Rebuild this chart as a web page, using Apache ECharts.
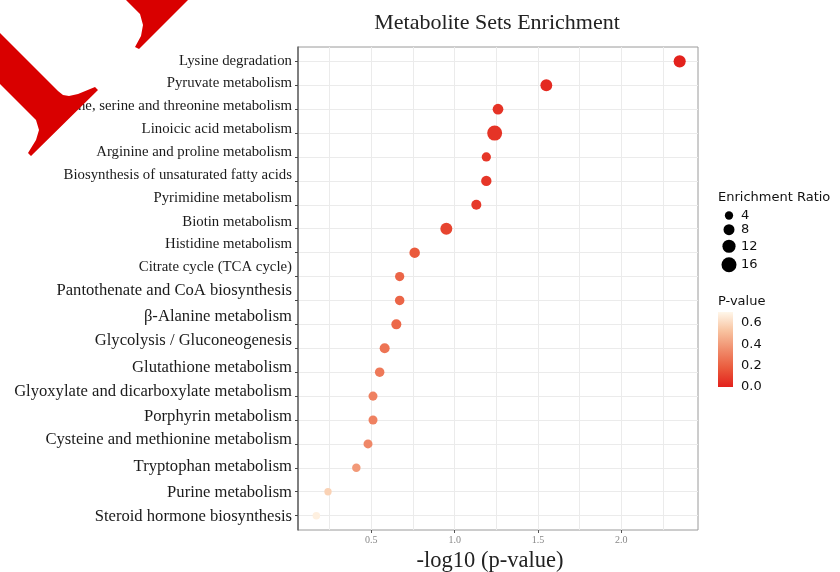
<!DOCTYPE html>
<html>
<head>
<meta charset="utf-8">
<script src="https://cdn.jsdelivr.net/npm/echarts@6/dist/echarts.min.js"></script>
<style>
  html, body { margin: 0; padding: 0; background: #fff; }
  #chart { width: 840px; height: 572px; }
</style>
</head>
<body>
<div id="chart"></div>
<script>
// pathways, top to bottom
const pathways = [
  'Lysine degradation',
  'Pyruvate metabolism',
  'Glycine, serine and threonine metabolism',
  'Linoicic acid metabolism',
  'Arginine and proline metabolism',
  'Biosynthesis of unsaturated fatty acids',
  'Pyrimidine metabolism',
  'Biotin metabolism',
  'Histidine metabolism',
  'Citrate cycle (TCA cycle)',
  'Pantothenate and CoA biosynthesis',
  'β-Alanine metabolism',
  'Glycolysis / Gluconeogenesis',
  'Glutathione metabolism',
  'Glyoxylate and dicarboxylate metabolism',
  'Porphyrin metabolism',
  'Cysteine and methionine metabolism',
  'Tryptophan metabolism',
  'Purine metabolism',
  'Steroid hormone biosynthesis'
]
const negLogP = [2.35, 1.55, 1.26, 1.24, 1.19, 1.19, 1.13, 0.95, 0.76, 0.67,
  0.67, 0.65, 0.58, 0.55, 0.51, 0.51, 0.48, 0.41, 0.24, 0.17]
const pValue = [0.0045, 0.028, 0.055, 0.057, 0.065, 0.065, 0.074, 0.112, 0.174, 0.214,
  0.214, 0.224, 0.263, 0.282, 0.309, 0.309, 0.331, 0.389, 0.575, 0.676]
const enrichRatio = [10, 9.5, 7.5, 16, 5.3, 7, 6.4, 9.7, 7.2, 5.3,
  5.6, 6.4, 6.4, 5.6, 5, 4.9, 4.9, 4.2, 2.8, 3]

const xTicks = [0.5, 1.0, 1.5, 2.0]
const xGridLines = [0.25, 0.5, 0.75, 1.0, 1.25, 1.5, 1.75, 2.0, 2.25]
const sizeLegend = [4, 8, 12, 16]
const pLegendTicks = [0.0, 0.2, 0.4, 0.6]

// style bits
const pColors = ['#e3211c', '#ea5a3c', '#f08d6c', '#f8c3a0', '#fff7ea']
const pMax = 0.7
// labels in the picture drift a bit above their grid lines
const labelLift = [0, 2, 3, 4, 5, 6, 7, 7, 9, 9, 10, 8, 8, 5, 4, 3, 4, 1, -1, -1]
const serif = '"Liberation Serif", "Times New Roman", serif'
const sans = '"DejaVu Sans", sans-serif'

let dotSize = v => Math.sqrt(17 + 13 * v)

let rich = {}
pathways.forEach((p, i) => {
  let l = labelLift[i]
  rich['s' + i] = {
    fontFamily: serif,
    fontSize: i < 10 ? 14.8 : 16.6,
    color: '#1a1a1a',
    padding: l >= 0 ? [0, 0, l * 2, 0] : [-l * 2, 0, 0, 0]
  }
})

let seriesData = pathways.map((p, i) => [negLogP[i], i, enrichRatio[i], pValue[i]])

// legend graphics
let graphics = []
graphics.push({
  type: 'text', x: 718, y: 198,
  style: { text: 'Enrichment Ratio', font: '13px ' + sans, fill: '#111', verticalAlign: 'middle' }
})
let ly = 215.5
sizeLegend.forEach((v, i) => {
  if (i > 0) ly += (dotSize(sizeLegend[i - 1]) + dotSize(v)) / 2 + 4.5
  graphics.push({ type: 'circle', shape: { cx: 729, cy: ly, r: dotSize(v) / 2 }, style: { fill: '#000' } })
  graphics.push({
    type: 'text', x: 741, y: ly,
    style: { text: String(v), font: '13px ' + sans, fill: '#111', verticalAlign: 'middle' }
  })
})
graphics.push({
  type: 'text', x: 718, y: 302,
  style: { text: 'P-value', font: '13px ' + sans, fill: '#111', verticalAlign: 'middle' }
})
let barTop = 312, barH = 75
graphics.push({
  type: 'rect', shape: { x: 718, y: barTop, width: 15, height: barH },
  style: {
    fill: new echarts.graphic.LinearGradient(0, 0, 0, 1,
      pColors.slice().reverse().map((c, i) => ({ offset: i / (pColors.length - 1), color: c })))
  }
})
pLegendTicks.forEach(t => {
  graphics.push({
    type: 'text', x: 741, y: barTop + barH * (1 - t / pMax),
    style: { text: t.toFixed(1), font: '13px ' + sans, fill: '#111', verticalAlign: 'middle' }
  })
})
// red mark over the top-left corner
graphics.push({
  type: 'polygon', z: 100,
  shape: { points: [[0, 33], [58, 91], [63, 95], [69, 96], [78, 94], [95, 87], [98, 90], [31, 156],
    [28, 153], [36, 140], [39, 130], [36, 120], [0, 84]] },
  style: { fill: '#d90000' }
})
graphics.push({
  type: 'polygon', z: 100,
  shape: { points: [[126, 0], [188, 0], [139, 49], [135, 47], [141, 36], [143, 25], [140, 14]] },
  style: { fill: '#d90000' }
})

let option = {
  animation: false,
  title: {
    text: 'Metabolite Sets Enrichment',
    left: 492, top: 7, textAlign: 'center',
    textStyle: { fontFamily: serif, fontSize: 22, fontWeight: 'normal', color: '#222' }
  },
  grid: {
    left: 298, right: 142, top: 47, bottom: 42,
    outerBoundsMode: 'none',
    show: true, borderColor: '#9a9a9a', borderWidth: 1, backgroundColor: '#fff'
  },
  xAxis: [
    {
      type: 'value', min: 0.06, max: 2.46,
      name: '-log10 (p-value)', nameLocation: 'middle', nameGap: 20,
      nameTextStyle: { fontFamily: serif, fontSize: 22.5, color: '#222', padding: [0, 16, 0, 0] },
      axisLine: { show: false, onZero: false },
      axisTick: { show: true, length: 3, customValues: xTicks, lineStyle: { color: '#555' } },
      axisLabel: { customValues: xTicks, fontFamily: serif, fontSize: 10, color: '#888', margin: 5,
        formatter: v => v.toFixed(1) },
      splitLine: { show: false }
    },
    {
      type: 'value', min: 0.06, max: 2.46, position: 'bottom',
      axisLine: { show: false, onZero: false },
      axisTick: { show: false, customValues: xGridLines },
      axisLabel: { show: false },
      splitLine: { show: true, lineStyle: { color: '#ebebeb', width: 1 } }
    }
  ],
  yAxis: {
    type: 'value', inverse: true, min: -0.6, max: 19.6,
    axisLine: { show: true, onZero: false, lineStyle: { color: '#666', width: 1.5 } },
    axisTick: { show: true, length: 3, customValues: pathways.map((p, i) => i), lineStyle: { color: '#444' } },
    axisLabel: {
      customValues: pathways.map((p, i) => i), margin: 6,
      formatter: v => '{s' + v + '|' + pathways[v] + '}',
      rich: rich
    },
    splitLine: { show: true, lineStyle: { color: '#ebebeb', width: 1 } }
  },
  visualMap: {
    show: false, type: 'continuous', dimension: 3, min: 0, max: pMax,
    seriesIndex: 0, inRange: { color: pColors }
  },
  series: [
    {
      type: 'scatter',
      xAxisIndex: 0,
      data: seriesData,
      symbolSize: val => dotSize(val[2]),
      itemStyle: { opacity: 1 },
      z: 5
    }
  ],
  graphic: graphics
}

let myChart = echarts.init(document.getElementById('chart'))
myChart.setOption(option)
</script>
</body>
</html>
